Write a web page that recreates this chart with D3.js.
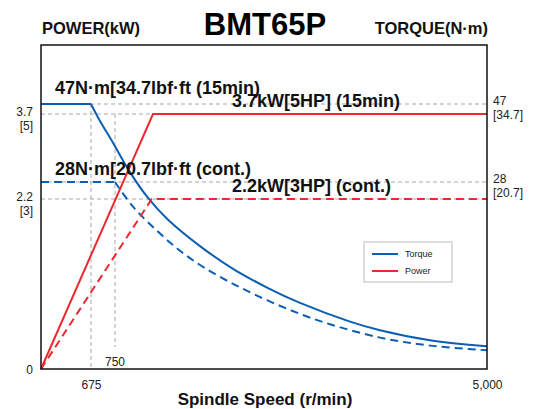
<!DOCTYPE html>
<html>
<head>
<meta charset="utf-8">
<script src="https://cdn.jsdelivr.net/npm/d3@7"></script>
<style>
  html, body { margin: 0; padding: 0; background: #fff; }
  svg { display: block; font-family: "Liberation Sans", Arial, Helvetica, sans-serif; }
</style>
</head>
<body>
<svg id="chart" width="533" height="409"></svg>
<script>
// ---- data ----
const title = "BMT65P";
const xTickValues = [675, 5000];
const xTickLabels = ["675", "5,000"];
const xInnerTick = 750;
const powerTickValues = [0, 2.2, 3.7];
const powerTickLabels = [["0"], ["2.2", "[3]"], ["3.7", "[5]"]];
const torqueTickValues = [28, 47];
const torqueTickLabels = [["28", "[20.7]"], ["47", "[34.7]"]];

// torque, 15 min rating (N·m)
const torque15Speed = [0, 675, 700, 744, 921, 1116, 1344, 1721, 2098, 2487, 2864, 3435, 3778, 4349, 5000];
const torque15Value = [47, 47, 43.3, 37.5, 30.4, 25.8, 22.5, 18.4, 15.0, 12.2, 9.9, 7.1, 5.8, 4.3, 3.4];
// torque, continuous rating (N·m)
const torqueContSpeed = [0, 750, 956, 1230, 1493, 1778, 2121, 2487, 2864, 3206, 3778, 4349, 5000];
const torqueContValue = [28, 28, 24.3, 20.7, 17.7, 15.1, 12.6, 10.3, 8.25, 6.7, 4.7, 3.5, 2.8];
// power, 15 min rating (kW)
const power15Speed = [0, 1184, 5000];
const power15Value = [0, 3.7, 3.7];
// power, continuous rating (kW)
const powerContSpeed = [0, 1170, 5000];
const powerContValue = [0, 2.2, 2.2];

const annotations = [
  { text: "47N·m[34.7lbf·ft (15min)", ref: "t47" },
  { text: "3.7kW[5HP] (15min)", ref: "p37" },
  { text: "28N·m[20.7lbf·ft (cont.)", ref: "t28" },
  { text: "2.2kW[3HP] (cont.)", ref: "p22" }
];
const legendItems = ["Torque", "Power"];

// ---- layout ----
const BLUE = "#0b5fb3", RED = "#ea2a2f", GRID = "#a8a8a8";
const L = 41, R = 487, T = 45, B = 369;

const svg = d3.select("#chart");

// schematic (piecewise) scales as in the original drawing
const x = d3.scaleLinear().domain([0, 675, 750, 5000]).range([L, 91, 115, R]);
const yP = d3.scaleLinear().domain([0, 2.2, 3.7]).range([B, 199, 114]);
const yT = d3.scaleLinear().domain([0, 28, 47]).range([B, 182, 104]);

const zip = (a, b) => a.map((v, i) => [v, b[i]]);

// ---- grid ----
const g = svg.append("g");
const hGrid = [yT(47), yP(3.7), yT(28), yP(2.2)];
g.selectAll("line.h").data(hGrid).join("line")
  .attr("x1", L).attr("x2", R).attr("y1", d => d).attr("y2", d => d)
  .attr("stroke", GRID).attr("stroke-width", 1).attr("stroke-dasharray", "4,3");
g.append("line").attr("x1", x(675)).attr("x2", x(675)).attr("y1", yT(47)).attr("y2", B)
  .attr("stroke", GRID).attr("stroke-width", 1).attr("stroke-dasharray", "4,3");
g.append("line").attr("x1", x(750)).attr("x2", x(750)).attr("y1", yP(3.7)).attr("y2", 347)
  .attr("stroke", GRID).attr("stroke-width", 1).attr("stroke-dasharray", "4,3");

// ---- lines ----
const lineT = d3.line().x(d => x(d[0])).y(d => yT(d[1])).curve(d3.curveCatmullRom.alpha(0.5));
const lineP = d3.line().x(d => x(d[0])).y(d => yP(d[1]));

function torquePath(sp, val, dash) {
  const flat = zip(sp, val).slice(0, 2);
  const curve = zip(sp, val).slice(1);
  svg.append("path").attr("d", d3.line().x(d => x(d[0])).y(d => yT(d[1]))(flat))
    .attr("fill", "none").attr("stroke", BLUE).attr("stroke-width", 2)
    .attr("stroke-dasharray", dash);
  svg.append("path").attr("d", lineT(curve))
    .attr("fill", "none").attr("stroke", BLUE).attr("stroke-width", 2)
    .attr("stroke-dasharray", dash);
}
torquePath(torque15Speed, torque15Value, null);
torquePath(torqueContSpeed, torqueContValue, "8,5");

svg.append("path").attr("d", lineP(zip(power15Speed, power15Value)))
  .attr("fill", "none").attr("stroke", RED).attr("stroke-width", 2);
svg.append("path").attr("d", lineP(zip(powerContSpeed, powerContValue)))
  .attr("fill", "none").attr("stroke", RED).attr("stroke-width", 2)
  .attr("stroke-dasharray", "8,5");

// ---- frame ----
svg.append("rect").attr("x", L).attr("y", T).attr("width", R - L).attr("height", B - T)
  .attr("fill", "none").attr("stroke", "#111").attr("stroke-width", 1.5);

// ---- axes labels ----
const xAxis = d3.axisBottom(x).tickValues(xTickValues)
  .tickFormat((d, i) => xTickLabels[i]).tickSize(0).tickPadding(11);
const xg = svg.append("g").attr("transform", `translate(0,${B})`).call(xAxis);
xg.select(".domain").remove();
xg.selectAll("text").attr("font-size", 12).attr("fill", "#222")
  .attr("font-family", "Liberation Sans, Arial, sans-serif");

svg.append("text").attr("x", x(xInnerTick)).attr("y", 366).attr("text-anchor", "middle")
  .attr("font-size", 12).attr("fill", "#222").text(String(xInnerTick));

powerTickValues.forEach((v, i) => {
  const lines = powerTickLabels[i];
  const t = svg.append("text").attr("text-anchor", "end").attr("font-size", 12).attr("fill", "#222");
  if (lines.length === 1) {
    t.append("tspan").attr("x", 33).attr("y", yP(v) + 5).text(lines[0]);
  } else {
    t.append("tspan").attr("x", 33).attr("y", yP(v) + 1.5).text(lines[0]);
    t.append("tspan").attr("x", 33).attr("y", yP(v) + 15.5).text(lines[1]);
  }
});
torqueTickValues.forEach((v, i) => {
  const lines = torqueTickLabels[i];
  const t = svg.append("text").attr("font-size", 12).attr("fill", "#222");
  t.append("tspan").attr("x", 493).attr("y", yT(v) + 0.5).text(lines[0]);
  t.append("tspan").attr("x", 493).attr("y", yT(v) + 14.5).text(lines[1]);
});

// titles
svg.append("text").attr("x", 265).attr("y", 35).attr("text-anchor", "middle")
  .attr("font-size", 31).attr("font-weight", "bold").attr("fill", "#000").text(title);
svg.append("text").attr("x", 42).attr("y", 34).attr("font-size", 16.5)
  .attr("font-weight", "bold").attr("fill", "#111").text("POWER(kW)");
svg.append("text").attr("x", 488).attr("y", 34).attr("text-anchor", "end").attr("font-size", 16.5)
  .attr("font-weight", "bold").attr("fill", "#111").text("TORQUE(N·m)");
svg.append("text").attr("x", 265).attr("y", 405).attr("text-anchor", "middle").attr("font-size", 17)
  .attr("font-weight", "bold").attr("fill", "#111").text("Spindle Speed (r/min)");

// annotations
const annPos = {
  t47: [55, yT(47) - 10],
  p37: [232, yP(3.7) - 7],
  t28: [55, yT(28) - 7],
  p22: [232, yP(2.2) - 7]
};
annotations.forEach(a => {
  svg.append("text").attr("x", annPos[a.ref][0]).attr("y", annPos[a.ref][1])
    .attr("font-size", 18).attr("font-weight", "bold").attr("fill", "#111").text(a.text);
});

// legend
const lg = svg.append("g");
lg.append("rect").attr("x", 364).attr("y", 242).attr("width", 88).attr("height", 40)
  .attr("fill", "#fff").attr("stroke", "#bbb").attr("stroke-width", 1);
legendItems.forEach((name, i) => {
  const yy = 254 + i * 17;
  lg.append("line").attr("x1", 372).attr("x2", 398).attr("y1", yy).attr("y2", yy)
    .attr("stroke", i === 0 ? BLUE : RED).attr("stroke-width", 2);
  lg.append("text").attr("x", 405).attr("y", yy + 3).attr("font-size", 9).attr("fill", "#222").text(name);
});
</script>
</body>
</html>
